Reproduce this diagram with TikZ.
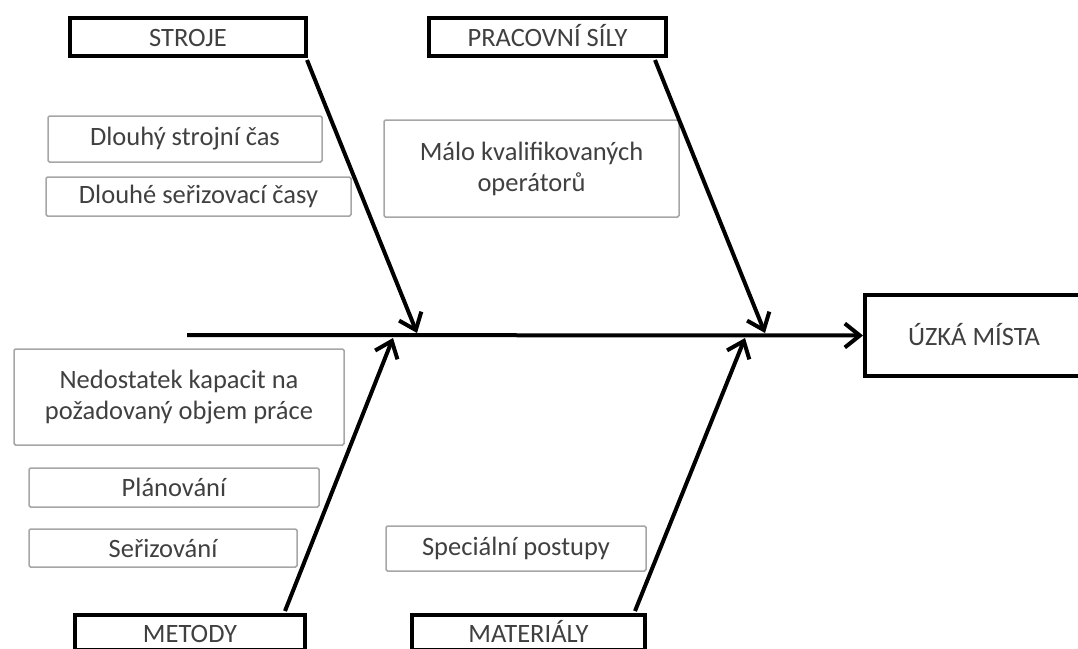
\documentclass[tikz,border=0pt]{standalone}
\usepackage{fontspec}
\setmainfont{Carlito}
\usetikzlibrary{arrows.meta,calc}
\definecolor{txt}{HTML}{404040}
\definecolor{frame}{HTML}{A6A6A6}

\begin{document}
\begin{tikzpicture}[x=1pt,y=-1pt,
  catbox/.style={draw=black,line width=4pt,fill=white,text=txt,
    font=\fontsize{26.5}{31}\selectfont,inner sep=0pt,text height=19pt,text depth=0pt},
  causebox/.style={draw=frame,line width=1.5pt,rounded corners=1.5pt,text=txt,
    font=\fontsize{26.5}{31}\selectfont,align=center,inner sep=0pt},
  bone/.style={line width=4pt,-{Straight Barb[length=15pt,width=24pt]}}]

\useasboundingbox (0,0) rectangle (1078,648);

% category boxes
\node[catbox,minimum width=236pt,minimum height=38pt] (stroje) at (188,37) {STROJE};
\node[catbox,minimum width=237pt,minimum height=38pt] (sily) at (547.5,37) {PRACOVNÍ SÍLY};
\node[catbox,minimum width=230pt,minimum height=35pt] (metody) at (190,632.5) {METODY};
\node[catbox,minimum width=233pt,minimum height=35pt] (material) at (528.5,632.5) {MATERIÁLY};
\node[catbox,minimum width=218pt,minimum height=81pt] (effect) at (974,335.5) {ÚZKÁ MÍSTA};

% causes
\node[causebox,minimum width=274pt,minimum height=46pt] (c1) at (185,139) {Dlouhý strojní čas};
\node[causebox,minimum width=305pt,minimum height=39pt] (c2) at (198.5,196.5) {Dlouhé seřizovací časy};
\node[causebox,minimum width=295pt,minimum height=97pt] (c3) at (531.5,168.5) {Málo kvalifikovaných\\operátorů};
\node[causebox,minimum width=330pt,minimum height=96pt] (c4) at (179,397) {Nedostatek kapacit na\\požadovaný objem práce};
\node[causebox,minimum width=290pt,minimum height=39pt] (c5) at (174,487.5) {Plánování};
\node[causebox,minimum width=268pt,minimum height=38pt] (c6) at (163,548) {Seřizování};
\node[causebox,minimum width=260pt,minimum height=45pt] (c7) at (516,548.5) {Speciální postupy};

% spine and joints
\coordinate (tail) at (187,335);
\coordinate (j1) at (417,333);
\coordinate (j2) at (765,333);
\coordinate (j3) at (393,338);
\coordinate (j4) at (745,338);

\draw[bone] (tail) -- (effect.west);

% bones
\draw[bone] ($(stroje.south east)+(-1,2)$) -- (j1);
\draw[bone] ($(sily.south east)+(-13,2)$) -- (j2);
\draw[bone] ($(metody.north east)+(-22,-2)$) -- (j3);
\draw[bone] ($(material.north east)+(-12,-2)$) -- (j4);
\end{tikzpicture}
\end{document}
